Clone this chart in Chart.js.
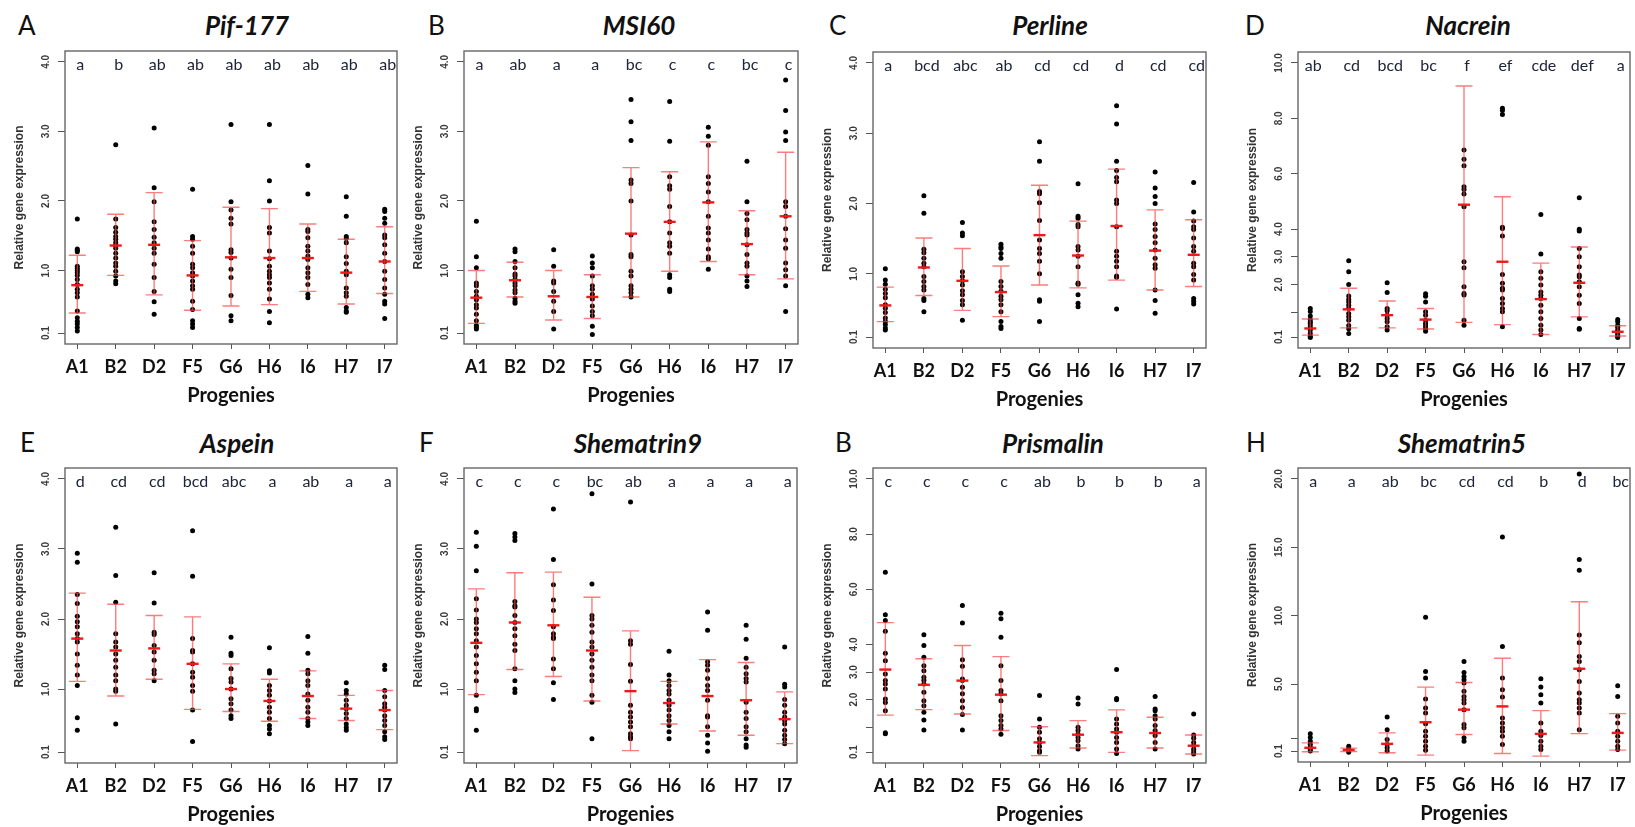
<!DOCTYPE html>
<html>
<head>
<meta charset="utf-8">
<script src="https://cdn.jsdelivr.net/npm/chart.js@4"></script>
<style>
  html, body { margin: 0; padding: 0; background: #fff; }
  #wrap { position: relative; width: 1635px; height: 827px; background: #fff; overflow: hidden; }
  #wrap canvas { position: absolute; }
  .tag { position: absolute; font: 400 26px Lato, sans-serif; color: #111; line-height: 1; }
  .ttl { position: absolute; font: italic 700 26px Lato, sans-serif; color: #111; transform: translate(-50%, -50%); white-space: nowrap; }
</style>
</head>
<body>
<div id="wrap"></div>
<script>
// ───────────────────────── data ─────────────────────────
const progenies = ['A1', 'B2', 'D2', 'F5', 'G6', 'H6', 'I6', 'H7', 'I7'];

const ticks4 = [0.1, 1, 2, 3, 4];
const ticks4Text = ['0.1', '1.0', '2.0', '3.0', '4.0'];
const ticks10 = [0.1, 1, 2, 3, 4, 6, 8, 10];
const ticks10Text = ['0.1', '', '2.0', '3.0', '4.0', '6.0', '8.0', '10.0'];
const ticks20 = [0.1, 1, 5, 10, 15, 20];
const ticks20Text = ['0.1', '', '5.0', '10.0', '15.0', '20.0'];

// A  Pif-177
const pifPoints = [
  [1.74,1.31,1.29,1.27,1.06,1.03,1.00,0.97,0.93,0.87,0.80,0.73,0.68,0.62,0.42,0.32,0.27,0.23,0.18,0.13],
  [2.81,1.74,1.62,1.55,1.49,1.45,1.40,1.36,1.32,1.25,1.18,1.11,1.06,0.99,0.92,0.85,0.81],
  [3.05,2.19,1.99,1.70,1.59,1.48,1.40,1.32,1.25,1.09,0.90,0.70,0.55,0.37],
  [2.17,1.49,1.45,1.35,1.25,1.09,1.04,0.97,0.92,0.85,0.78,0.73,0.56,0.44,0.28,0.23,0.18],
  [3.10,1.99,1.87,1.75,1.67,1.30,1.26,1.18,1.02,0.90,0.64,0.35,0.28],
  [3.10,2.29,2.00,1.62,1.54,1.28,1.17,1.06,0.99,0.94,0.90,0.82,0.73,0.59,0.41,0.25],
  [2.51,2.10,1.59,1.56,1.47,1.35,1.28,1.21,1.16,1.04,0.97,0.90,0.80,0.66,0.61],
  [2.06,1.78,1.49,1.46,1.40,1.20,1.10,0.99,0.94,0.75,0.68,0.63,0.47,0.42,0.40],
  [1.88,1.85,1.75,1.68,1.51,1.47,1.37,1.25,1.13,0.99,0.87,0.75,0.66,0.56,0.52,0.31]
];
const pifMean  = [0.79, 1.36, 1.37, 0.93, 1.19, 1.18, 1.18, 0.97, 1.13];
const pifUpper = [1.22, 1.81, 2.12, 1.43, 1.91, 1.89, 1.67, 1.45, 1.63];
const pifLower = [0.39, 0.93, 0.65, 0.43, 0.49, 0.51, 0.70, 0.52, 0.67];
const pifLetters = ['a', 'b', 'ab', 'ab', 'ab', 'ab', 'ab', 'ab', 'ab'];

// B  MSI60
const msiPoints = [
  [1.71,1.20,1.04,0.82,0.78,0.70,0.63,0.58,0.51,0.46,0.37,0.28,0.21,0.18,0.16],
  [1.31,1.27,1.13,1.04,0.95,0.92,0.87,0.82,0.78,0.72,0.68,0.60,0.56,0.53],
  [1.30,1.06,0.85,0.82,0.70,0.56,0.41,0.16],
  [1.21,1.11,1.04,0.92,0.78,0.73,0.66,0.59,0.49,0.41,0.35,0.20,0.08],
  [3.46,3.14,2.87,2.30,2.25,2.00,1.51,1.23,1.20,0.99,0.92,0.78,0.73,0.68,0.62],
  [3.43,2.86,2.35,2.22,2.17,1.92,1.70,1.54,1.40,1.35,1.25,0.94,0.90,0.73,0.70],
  [3.06,2.93,2.80,2.35,2.25,2.13,1.99,1.78,1.61,1.54,1.44,1.31,1.20,1.17,1.02],
  [2.57,1.99,1.82,1.73,1.59,1.54,1.51,1.37,1.23,1.11,1.06,0.92,0.85,0.77],
  [3.74,3.30,2.99,2.87,1.99,1.92,1.78,1.60,1.44,1.32,1.11,1.01,0.92,0.78,0.41]
];
const msiMean  = [0.61, 0.86, 0.63, 0.62, 1.53, 1.70, 1.98, 1.38, 1.78];
const msiUpper = [1.00, 1.12, 1.00, 0.94, 2.48, 2.42, 2.85, 1.86, 2.70];
const msiLower = [0.24, 0.62, 0.29, 0.31, 0.62, 0.99, 1.13, 0.94, 0.88];
const msiLetters = ['a', 'ab', 'a', 'a', 'bc', 'c', 'c', 'bc', 'c'];

// C  Perline
const perPoints = [
  [1.07,0.91,0.85,0.78,0.72,0.66,0.56,0.51,0.45,0.37,0.32,0.28,0.23,0.20],
  [2.11,1.86,1.35,1.30,1.22,1.15,1.10,0.96,0.89,0.82,0.77,0.65,0.62,0.46],
  [1.73,1.58,1.54,1.03,0.96,0.90,0.84,0.76,0.70,0.62,0.56,0.34],
  [1.42,1.38,1.36,1.29,1.22,0.89,0.82,0.75,0.68,0.63,0.56,0.46,0.32,0.25,0.22],
  [2.88,2.60,2.17,2.14,2.01,1.76,1.48,1.36,1.29,1.18,1.00,0.63,0.61,0.32],
  [2.28,1.82,1.79,1.70,1.67,1.39,1.34,1.25,1.10,0.87,0.85,0.70,0.58,0.53],
  [3.39,3.13,2.60,2.47,2.37,2.31,2.05,2.00,1.67,1.32,1.25,1.18,1.10,0.97,0.95,0.50],
  [2.45,2.22,2.10,2.00,1.71,1.63,1.53,1.44,1.34,1.22,1.13,1.08,0.77,0.62,0.44],
  [2.30,1.88,1.75,1.67,1.63,1.51,1.39,1.32,1.15,1.10,0.99,0.91,0.65,0.61,0.57]
];
const perMean  = [0.55, 1.09, 0.90, 0.74, 1.55, 1.26, 1.68, 1.33, 1.27];
const perUpper = [0.81, 1.51, 1.36, 1.11, 2.26, 1.75, 2.49, 1.91, 1.77];
const perLower = [0.32, 0.69, 0.48, 0.39, 0.84, 0.80, 0.91, 0.77, 0.82];
const perLetters = ['a', 'bcd', 'abc', 'ab', 'cd', 'cd', 'd', 'cd', 'cd'];

// D  Nacrein
const nacPoints = [
  [1.13,1.02,0.86,0.73,0.65,0.59,0.50,0.41,0.35,0.23,0.12,0.08],
  [2.86,2.46,2.00,1.58,1.46,1.37,1.25,1.13,0.95,0.83,0.71,0.52,0.40,0.23],
  [2.06,1.71,1.13,1.05,0.89,0.77,0.65,0.47,0.35],
  [1.66,1.57,1.37,1.01,0.89,0.71,0.59,0.50,0.41,0.31],
  [6.86,6.52,6.29,5.53,5.43,5.27,4.81,2.82,2.60,1.92,1.67,1.62,0.71,0.53],
  [8.36,8.28,8.14,4.07,4.02,3.75,2.36,2.04,1.86,1.80,1.49,1.31,1.13,1.01,0.47],
  [4.53,3.10,2.46,2.22,1.98,1.73,1.61,1.49,1.25,1.01,0.77,0.53,0.35,0.19],
  [5.13,3.99,3.93,3.30,3.00,2.64,2.34,2.28,2.10,1.92,1.61,1.31,0.77,0.41,0.38],
  [0.73,0.65,0.53,0.45,0.35,0.29,0.20,0.12,0.08]
];
const nacMean  = [0.41, 1.10, 0.89, 0.73, 4.88, 2.82, 1.47, 2.06, 0.29];
const nacUpper = [0.75, 1.86, 1.40, 1.13, 9.17, 5.17, 2.77, 3.35, 0.51];
const nacLower = [0.17, 0.43, 0.43, 0.39, 0.63, 0.55, 0.19, 0.83, 0.14];
const nacLetters = ['ab', 'cd', 'bcd', 'bc', 'f', 'ef', 'cde', 'def', 'a'];

// E  Aspein
const aspPoints = [
  [2.94,2.81,2.35,2.22,2.04,1.96,1.89,1.79,1.72,1.67,1.50,1.34,1.20,1.05,0.59,0.41],
  [3.31,2.62,2.24,1.79,1.67,1.60,1.50,1.41,1.31,1.20,1.12,1.00,0.97,0.50],
  [2.66,2.23,1.81,1.78,1.62,1.53,1.41,1.27,1.22,1.12],
  [3.26,2.61,1.72,1.55,1.53,1.36,1.24,1.17,1.05,0.97,0.70,0.25],
  [1.74,1.51,1.48,1.29,1.15,1.10,1.00,0.86,0.79,0.70,0.62,0.58],
  [1.59,1.26,1.23,1.05,0.98,0.91,0.83,0.74,0.67,0.58,0.48,0.43,0.36],
  [1.75,1.51,1.27,1.22,1.12,1.05,0.93,0.84,0.74,0.67,0.58,0.53,0.48],
  [1.09,0.98,0.93,0.84,0.77,0.72,0.65,0.58,0.50,0.45,0.41],
  [1.34,1.28,0.98,0.89,0.79,0.74,0.70,0.62,0.55,0.48,0.39,0.32,0.28]
];
const aspMean  = [1.72, 1.55, 1.58, 1.36, 1.00, 0.83, 0.90, 0.72, 0.70];
const aspUpper = [2.37, 2.21, 2.05, 2.03, 1.36, 1.14, 1.26, 0.91, 0.98];
const aspLower = [1.11, 0.90, 1.14, 0.71, 0.68, 0.54, 0.58, 0.55, 0.42];
const aspLetters = ['d', 'cd', 'cd', 'bcd', 'abc', 'a', 'ab', 'a', 'a'];

// F  Shematrin9
const sh9Points = [
  [3.24,3.04,2.69,2.29,2.13,2.00,1.95,1.86,1.79,1.69,1.60,1.48,1.36,1.24,1.12,0.91,0.72,0.69,0.41],
  [3.22,3.17,3.12,2.25,2.19,2.17,2.05,1.95,1.86,1.76,1.64,1.55,1.29,1.12,1.00,0.95],
  [3.57,2.85,2.49,2.27,2.12,1.89,1.79,1.74,1.72,1.43,1.29,1.09,0.85],
  [3.79,2.50,2.05,2.00,1.91,1.81,1.67,1.60,1.50,1.41,1.31,1.20,1.12,0.91,0.81,0.29],
  [3.67,1.69,1.64,1.35,1.11,0.77,0.67,0.60,0.53,0.46,0.36,0.32,0.29],
  [1.54,1.20,1.12,1.05,0.98,0.93,0.84,0.77,0.70,0.62,0.55,0.48,0.39,0.29],
  [2.10,1.84,1.39,1.34,1.27,1.15,1.05,0.98,0.84,0.62,0.60,0.46,0.34,0.23,0.11],
  [1.91,1.71,1.44,1.31,1.22,1.15,1.10,0.81,0.67,0.58,0.46,0.39,0.29,0.20,0.17],
  [1.60,1.07,1.03,0.85,0.77,0.67,0.60,0.55,0.50,0.41,0.34,0.28,0.22]
];
const sh9Mean  = [1.66, 1.95, 1.91, 1.55, 0.97, 0.80, 0.90, 0.84, 0.57];
const sh9Upper = [2.43, 2.66, 2.67, 2.31, 1.83, 1.11, 1.42, 1.38, 0.96];
const sh9Lower = [0.92, 1.28, 1.18, 0.83, 0.12, 0.50, 0.40, 0.34, 0.22];
const sh9Letters = ['c', 'c', 'c', 'bc', 'ab', 'a', 'a', 'a', 'a'];

// G  Prismalin
const priPoints = [
  [6.62,5.08,4.87,4.48,3.68,3.41,2.93,2.69,2.57,2.39,2.02,1.90,1.60,0.80,0.76],
  [4.35,3.96,3.54,3.23,3.05,2.81,2.70,2.57,2.27,1.96,1.78,1.54,1.26,0.90],
  [5.41,4.78,3.45,3.21,2.75,2.69,2.45,2.21,1.96,1.72,1.46,0.90],
  [5.13,4.93,4.26,3.23,2.69,2.33,2.21,1.96,1.42,1.24,1.06,0.94,0.75],
  [2.15,1.30,1.00,0.82,0.58,0.45,0.30,0.15,0.09],
  [2.06,1.84,1.00,0.88,0.75,0.63,0.51,0.33,0.21],
  [3.09,2.04,2.00,1.30,1.12,0.94,0.82,0.63,0.45,0.21,0.05],
  [2.11,1.66,1.60,1.42,1.30,1.06,0.88,0.70,0.45,0.21],
  [1.48,0.72,0.60,0.45,0.33,0.20,0.10,0.03]
];
const priMean  = [3.09, 2.54, 2.69, 2.18, 0.45, 0.73, 0.82, 0.79, 0.33];
const priUpper = [4.79, 3.48, 3.96, 3.56, 1.02, 1.24, 1.63, 1.36, 0.72];
const priLower = [1.44, 1.64, 1.48, 0.88, -0.03, 0.25, 0.09, 0.25, 0.03];
const priLetters = ['c', 'c', 'c', 'c', 'ab', 'b', 'b', 'b', 'a'];

// H  Shematrin5
const sh5Points = [
  [1.36,1.10,0.83,0.60,0.40,0.22,0.10],
  [0.46,0.28,0.15,0.02],
  [2.60,1.67,0.95,0.58,0.35,0.10],
  [9.88,5.92,5.44,3.91,3.25,2.89,2.10,1.55,1.19,0.82,0.46,0.17],
  [6.65,5.85,5.56,5.32,5.07,4.47,4.10,3.86,3.62,3.13,2.04,1.80,1.07,0.83],
  [15.75,7.74,5.44,4.59,4.05,2.52,2.16,1.80,1.55,1.19,0.58],
  [5.39,4.78,4.22,3.62,2.16,1.55,1.24,0.83,0.46,0.22],
  [20.36,14.10,13.33,8.59,8.03,7.01,6.65,6.04,5.19,4.34,3.86,3.62,3.25,2.89,1.67],
  [4.88,4.10,2.65,2.16,1.55,1.19,0.83,0.46,0.22]
];
const sh5Mean  = [0.34, 0.19, 0.63, 2.21, 3.13, 3.37, 1.36, 6.12, 1.43];
const sh5Upper = [0.70, 0.32, 1.43, 4.78, 5.12, 6.89, 3.06, 11.02, 2.84];
const sh5Lower = [0.05, 0.07, -0.02, -0.19, 1.31, -0.07, -0.27, 1.38, 0.17];
const sh5Letters = ['a', 'a', 'ab', 'bc', 'cd', 'cd', 'b', 'd', 'bc'];

// ─────────────────────── panels ───────────────────────
const panels = [
  { tag: 'A', title: 'Pif-177',    pts: pifPoints, mean: pifMean, up: pifUpper, lo: pifLower, letters: pifLetters, ticks: ticks4,  tickText: ticks4Text,  yMin: -0.056, yMax: 4.156,  box: [65, 51, 397, 344],   tagAt: [18, 12],   titleAt: [247, 25] },
  { tag: 'B', title: 'MSI60',      pts: msiPoints, mean: msiMean, up: msiUpper, lo: msiLower, letters: msiLetters, ticks: ticks4,  tickText: ticks4Text,  yMin: -0.056, yMax: 4.156,  box: [464, 51, 798, 344],  tagAt: [428, 12],  titleAt: [639, 25] },
  { tag: 'C', title: 'Perline',    pts: perPoints, mean: perMean, up: perUpper, lo: perLower, letters: perLetters, ticks: ticks4,  tickText: ticks4Text,  yMin: -0.056, yMax: 4.156,  box: [873, 52, 1206, 348], tagAt: [829, 12],  titleAt: [1050, 25] },
  { tag: 'D', title: 'Nacrein',    pts: nacPoints, mean: nacMean, up: nacUpper, lo: nacLower, letters: nacLetters, ticks: ticks10, tickText: ticks10Text, yMin: -0.296, yMax: 10.396, box: [1298, 52, 1630, 348], tagAt: [1245, 12], titleAt: [1468, 25] },
  { tag: 'E', title: 'Aspein',     pts: aspPoints, mean: aspMean, up: aspUpper, lo: aspLower, letters: aspLetters, ticks: ticks4,  tickText: ticks4Text,  yMin: -0.056, yMax: 4.156,  box: [65, 468, 397, 763],  tagAt: [20, 429],  titleAt: [237, 443] },
  { tag: 'F', title: 'Shematrin9', pts: sh9Points, mean: sh9Mean, up: sh9Upper, lo: sh9Lower, letters: sh9Letters, ticks: ticks4,  tickText: ticks4Text,  yMin: -0.056, yMax: 4.156,  box: [464, 468, 797, 763], tagAt: [419, 429], titleAt: [638, 443] },
  { tag: 'B', title: 'Prismalin',  pts: priPoints, mean: priMean, up: priUpper, lo: priLower, letters: priLetters, ticks: ticks10, tickText: ticks10Text, yMin: -0.296, yMax: 10.396, box: [873, 468, 1206, 763], tagAt: [835, 429], titleAt: [1053, 443] },
  { tag: 'H', title: 'Shematrin5', pts: sh5Points, mean: sh5Mean, up: sh5Upper, lo: sh5Lower, letters: sh5Letters, ticks: ticks20, tickText: ticks20Text, yMin: -0.696, yMax: 20.796, box: [1298, 468, 1630, 762], tagAt: [1246, 429], titleAt: [1462, 443] }
];

const Y_AXIS_W = 66, X_AXIS_H = 66, PAD_TOP = 4, PAD_RIGHT = 5;

// frame, y tick labels, error bars and letter groups
const panelDecor = {
  id: 'panelDecor',
  afterDatasetsDraw(chart, args, opts) {
    const p = opts.panel;
    const { ctx, chartArea: a } = chart;
    const xs = chart.scales.x, ys = chart.scales.y;
    ctx.save();

    // error bars: mean ± sd
    p.mean.forEach((m, i) => {
      const x = xs.getPixelForValue(i);
      const yHi = ys.getPixelForValue(p.up[i]);
      const yLo = ys.getPixelForValue(p.lo[i]);
      const yM = ys.getPixelForValue(m);
      ctx.strokeStyle = 'rgba(250, 70, 70, 0.7)';
      ctx.lineWidth = 1.4;
      ctx.beginPath();
      ctx.moveTo(x, yHi); ctx.lineTo(x, yLo);
      ctx.moveTo(x - 8.5, yHi); ctx.lineTo(x + 8.5, yHi);
      ctx.moveTo(x - 8.5, yLo); ctx.lineTo(x + 8.5, yLo);
      ctx.stroke();
      ctx.strokeStyle = '#f01818';
      ctx.lineWidth = 2.4;
      ctx.beginPath();
      ctx.moveTo(x - 6, yM); ctx.lineTo(x + 6, yM);
      ctx.stroke();
    });

    // significance letters
    ctx.fillStyle = '#20243a';
    ctx.font = '16px Lato, sans-serif';
    ctx.textAlign = 'center';
    ctx.textBaseline = 'middle';
    p.letters.forEach((t, i) => ctx.fillText(t, xs.getPixelForValue(i) + 3, a.top + 14));

    // frame
    ctx.strokeStyle = '#666';
    ctx.lineWidth = 1.4;
    ctx.strokeRect(a.left, a.top, a.right - a.left, a.bottom - a.top);

    // y tick labels, rotated like base R
    ctx.fillStyle = '#3a3a3a';
    ctx.font = 'bold 10px "Liberation Sans", sans-serif';
    p.ticks.forEach((v, i) => {
      if (!p.tickText[i]) return;
      ctx.save();
      ctx.translate(a.left - 19, ys.getPixelForValue(v));
      ctx.rotate(-Math.PI / 2);
      ctx.fillText(p.tickText[i], 0, 0);
      ctx.restore();
    });
    ctx.restore();
  }
};

const wrap = document.getElementById('wrap');

panels.forEach(p => {
  const [l, t, r, b] = p.box;
  const w = (r - l) + Y_AXIS_W + PAD_RIGHT;
  const h = (b - t) + PAD_TOP + X_AXIS_H;

  const canvas = document.createElement('canvas');
  canvas.width = w; canvas.height = h;
  canvas.style.left = (l - Y_AXIS_W) + 'px';
  canvas.style.top = (t - PAD_TOP) + 'px';
  canvas.style.width = w + 'px';
  canvas.style.height = h + 'px';
  wrap.appendChild(canvas);

  const tag = document.createElement('div');
  tag.className = 'tag';
  tag.textContent = p.tag;
  tag.style.left = p.tagAt[0] + 'px';
  tag.style.top = p.tagAt[1] + 'px';
  wrap.appendChild(tag);

  const ttl = document.createElement('div');
  ttl.className = 'ttl';
  ttl.textContent = p.title;
  ttl.style.left = p.titleAt[0] + 'px';
  ttl.style.top = p.titleAt[1] + 'px';
  wrap.appendChild(ttl);

  const points = [];
  p.pts.forEach((vals, i) => vals.forEach(v => points.push({ x: i, y: v })));

  new Chart(canvas.getContext('2d'), {
    type: 'scatter',
    data: {
      datasets: [{
        data: points,
        pointRadius: 2.5,
        pointBackgroundColor: '#000',
        pointBorderWidth: 0,
        clip: false
      }]
    },
    options: {
      responsive: false,
      animation: false,
      layout: { padding: { left: 0, top: PAD_TOP, right: PAD_RIGHT, bottom: 0 } },
      plugins: { legend: { display: false }, tooltip: { enabled: false }, panelDecor: { panel: p } },
      scales: {
        x: {
          type: 'linear', min: -0.32, max: 8.32,
          afterBuildTicks: s => { s.ticks = progenies.map((_, i) => ({ value: i })); },
          afterFit: s => { s.height = X_AXIS_H; },
          ticks: {
            callback: v => progenies[v],
            font: { family: 'Lato', weight: 'bold', size: 18 },
            color: '#111', padding: 7, autoSkip: false, maxRotation: 0
          },
          grid: { drawOnChartArea: false, drawTicks: true, tickLength: 5, color: '#555' },
          border: { display: false },
          title: {
            display: true, text: 'Progenies', color: '#111',
            font: { family: 'Lato', weight: 'bold', size: 20 },
            padding: { top: 0, bottom: 2 }
          }
        },
        y: {
          min: p.yMin, max: p.yMax,
          afterBuildTicks: s => { s.ticks = p.ticks.map(v => ({ value: v })); },
          afterFit: s => { s.width = Y_AXIS_W; },
          ticks: { display: false },
          grid: { drawOnChartArea: false, drawTicks: true, tickLength: 7, color: '#555' },
          border: { display: false },
          title: {
            display: true, text: 'Relative gene expression', color: '#333',
            font: { family: 'Liberation Sans', weight: 'bold', size: 12 },
            padding: { top: 13, bottom: 0 }
          }
        }
      }
    },
    plugins: [panelDecor]
  });
});
</script>
</body>
</html>
